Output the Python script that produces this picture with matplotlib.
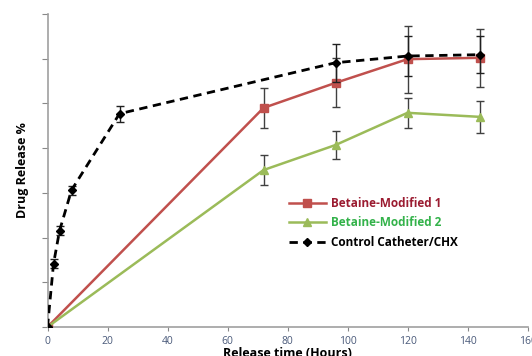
import numpy as np
import matplotlib.pyplot as plt

plt.rcParams['font.family'] = ['Open Sans', 'DejaVu Sans']

# release times (hours)
t_mod = [0, 72, 96, 120, 144]
t_ctrl = [0, 2, 4, 8, 24, 96, 120, 144]

# drug release %
mod1 = [0, 49.0, 54.6, 59.9, 60.2]
mod1_err = [0, 4.5, 5.5, 7.5, 6.5]
mod2 = [0, 35.1, 40.7, 47.9, 47.0]
mod2_err = [0, 3.4, 3.1, 3.4, 3.6]
ctrl = [0, 14.1, 21.5, 30.6, 47.7, 59.1, 60.6, 60.9]
ctrl_err = [0, 1.0, 1.0, 1.0, 1.8, 4.2, 4.5, 4.2]

labels = ["Betaine-Modified 1", "Betaine-Modified 2", "Control Catheter/CHX"]
text_colors = ["#9b1c31", "#33b24a", "black"]

fig = plt.figure(figsize=(5.32, 3.56), dpi=100)
ax = fig.add_axes([47.5/532, 29/356, 480/532, 313/356])

c1 = ax.errorbar(t_mod, mod1, yerr=mod1_err, color="#c0504d", ecolor="#404040",
                 elinewidth=1, capsize=3, capthick=1, lw=1.8, marker="s", ms=5.5,
                 zorder=3)
c2 = ax.errorbar(t_mod, mod2, yerr=mod2_err, color="#9bbb59", ecolor="#404040",
                 elinewidth=1, capsize=3, capthick=1, lw=1.8, marker="^", ms=5.5,
                 zorder=3)
c3 = ax.errorbar(t_ctrl, ctrl, yerr=ctrl_err, color="black", ecolor="#202020",
                 elinewidth=1, capsize=3, capthick=1, lw=2, ls=(0, (3, 2)),
                 marker="D", ms=4, zorder=4)

ax.set_xlim(0, 160)
ax.set_ylim(0, 70)
ax.set_xticks(np.arange(0, 161, 20))
ax.set_yticks(np.arange(0, 71, 10))
ax.set_yticklabels([])
ax.tick_params(axis="x", colors="#888888", labelcolor="#4a5a7a", labelsize=7.5, length=3)
ax.tick_params(axis="y", colors="#888888", length=4)
for s in ["top", "right"]:
    ax.spines[s].set_visible(False)
for s in ["left", "bottom"]:
    ax.spines[s].set_color("#a0a0a0")
    ax.spines[s].set_linewidth(1.2)

ax.set_xlabel("Release time (Hours)", fontsize=9, fontweight="bold", labelpad=0)
ax.set_ylabel("Drug Release %", fontsize=9, fontweight="bold")
ax.yaxis.set_label_coords(-0.038, 0.5)

leg = ax.legend([c1[0], c2[0], c3[0]], labels, loc="upper left",
                bbox_to_anchor=(0.48, 0.45), frameon=False,
                fontsize=8.5, handlelength=3.2, handletextpad=0.4, labelspacing=0.55)
for txt, c in zip(leg.get_texts(), text_colors):
    txt.set_color(c)
    txt.set_fontweight("bold")

fig.savefig("out.png", dpi=100)
